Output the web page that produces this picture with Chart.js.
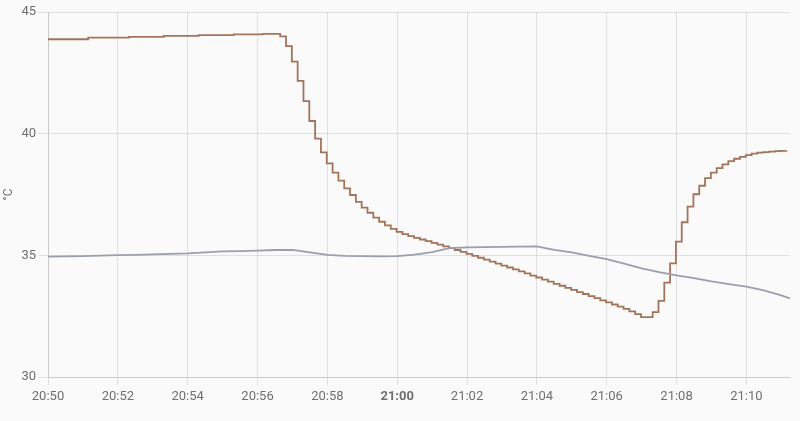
<!DOCTYPE html>
<html>
<head>
<meta charset="utf-8">
<script src="https://cdn.jsdelivr.net/npm/chart.js@4.4.1/dist/chart.umd.min.js"></script>
<style>
  html, body { margin: 0; padding: 0; background: #fafafa; }
  #chart { display: block; }
</style>
</head>
<body>
<canvas id="chart" width="800" height="421"></canvas>
<script>
// time axis: seconds since 20:50:00
const START_MIN = 20 * 60 + 50;
const END_SEC = 1275;

// tick positions (seconds since 20:50) -> 20:50, 20:52 ... 21:10
const xTicks = [0, 120, 240, 360, 480, 600, 720, 840, 960, 1080, 1200];
const yTicks = [30, 35, 40, 45];

// brown sensor, one reading every 10 s starting 20:50:09
const brownFirst = 9;
const brownStep = 10;
const brownValues = [
  43.88, 43.88, 43.88, 43.88, 43.88, 43.88,
  43.95, 43.95, 43.95, 43.95, 43.95, 43.95, 43.95,
  43.98, 43.98, 43.98, 43.98, 43.98, 43.98,
  44.02, 44.02, 44.02, 44.02, 44.02, 44.02,
  44.05, 44.05, 44.05, 44.05, 44.05, 44.05,
  44.08, 44.08, 44.08, 44.08, 44.08,
  44.10, 44.10, 44.10,
  44.0, 43.6, 42.96, 42.17, 41.34, 40.52, 39.8,
  39.23, 38.78, 38.40, 38.07, 37.75, 37.48, 37.2, 36.96, 36.75, 36.55,
  36.38, 36.23, 36.09, 35.96,
  35.87, 35.79, 35.72, 35.65, 35.58, 35.51, 35.44, 35.37, 35.30, 35.22,
  35.14, 35.06, 34.98, 34.90, 34.82, 34.74, 34.66, 34.58, 34.50, 34.42,
  34.34, 34.26, 34.17, 34.09, 34.00, 33.92, 33.83, 33.75, 33.66, 33.58,
  33.49, 33.41, 33.32, 33.24, 33.15, 33.07, 32.98, 32.89, 32.80, 32.70,
  32.58, 32.46, 32.46, 32.67, 33.13, 33.88, 34.67, 35.56, 36.36, 37.0,
  37.51, 37.86, 38.17, 38.4, 38.58, 38.74, 38.87, 38.97, 39.05, 39.12,
  39.18, 39.22, 39.24, 39.26, 39.28, 39.29, 39.3
];

// grey sensor, one reading every 30 s from 20:50:00, plus last reading
const grayStep = 30;
const grayValues = [
  34.95, 34.96, 34.97, 34.99, 35.01, 35.02, 35.04, 35.06, 35.08, 35.12,
  35.16, 35.17, 35.19, 35.22, 35.22, 35.12, 35.02, 34.98, 34.97, 34.96,
  34.97, 35.03, 35.13, 35.30, 35.33, 35.34, 35.35, 35.36, 35.37, 35.22,
  35.12, 34.98, 34.84, 34.66, 34.46, 34.31, 34.18, 34.06, 33.93, 33.82,
  33.71, 33.56, 33.35
];
const grayLast = 33.23;

const TEXT = '#6f6f6f';
const GRID = 'rgba(0,0,0,0.1)';
const FONT = 'Roboto, "Noto Sans", sans-serif';

function fmtTime(sec) {
  const m = START_MIN + Math.round(sec / 60);
  const h = Math.floor(m / 60);
  const mm = m % 60;
  return h + ':' + String(mm).padStart(2, '0');
}

const brownData = brownValues.map((v, i) => ({ x: brownFirst + i * brownStep, y: v }));
brownData.unshift({ x: 0, y: brownValues[0] });

const grayData = grayValues.map((v, i) => ({ x: i * grayStep, y: v }));
grayData.push({ x: END_SEC, y: grayLast });

new Chart(document.getElementById('chart'), {
  type: 'line',
  data: {
    datasets: [
      {
        data: grayData,
        borderColor: '#9a9fab',
        borderWidth: 1.8,
        pointRadius: 0,
        tension: 0
      },
      {
        data: brownData,
        borderColor: '#a3745a',
        borderWidth: 1.8,
        pointRadius: 0,
        stepped: true
      }
    ]
  },
  options: {
    responsive: false,
    animation: false,
    layout: { padding: { top: 12, right: 10, left: 0, bottom: 0 } },
    plugins: {
      legend: { display: false },
      tooltip: { enabled: false }
    },
    scales: {
      x: {
        type: 'linear',
        min: 0,
        max: END_SEC,
        afterBuildTicks: scale => {
          scale.ticks = xTicks.map(v => ({ value: v }));
        },
        afterFit: scale => { scale.height = 44; },
        ticks: {
          autoSkip: false,
          maxRotation: 0,
          padding: 4,
          color: TEXT,
          font: ctx => ({
            family: FONT,
            size: 13,
            weight: ctx.tick && ctx.tick.value === 600 ? 'bold' : 'normal'
          }),
          callback: v => fmtTime(v)
        },
        grid: { color: GRID, tickLength: 8 },
        border: { color: GRID }
      },
      y: {
        min: 30,
        max: 45,
        afterFit: scale => { scale.width = 48; },
        afterBuildTicks: scale => {
          scale.ticks = yTicks.map(v => ({ value: v }));
        },
        ticks: {
          padding: 2,
          color: TEXT,
          font: { family: FONT, size: 13 }
        },
        title: {
          display: true,
          text: '°C',
          color: TEXT,
          font: { family: FONT, size: 12 },
          padding: { top: 2, bottom: 0 }
        },
        grid: { color: GRID, tickLength: 10 },
        border: { color: GRID }
      }
    }
  }
});
</script>
</body>
</html>
